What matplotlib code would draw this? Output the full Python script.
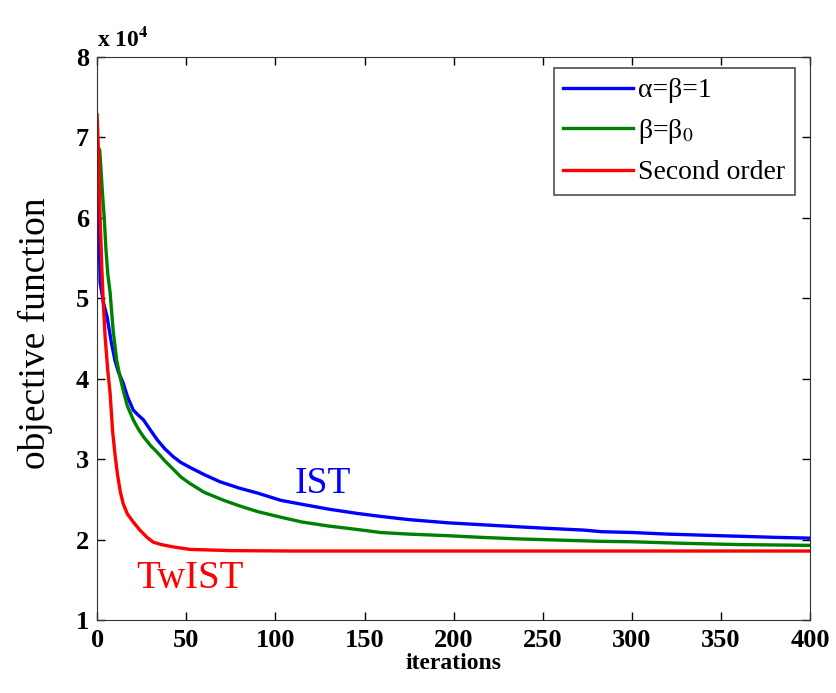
import matplotlib.pyplot as plt

plt.rcParams['font.family'] = ['Liberation Serif', 'DejaVu Serif']
plt.rcParams['mathtext.fontset'] = 'stix'

# objective value (x 1e4) against iteration
it_ist = [0, 0.5, 1.7, 3.5, 5.6, 8, 10, 12, 14.6, 17, 20.3, 23, 26, 30, 33.8, 38, 42.8, 47, 52,
          60, 69, 80, 90, 103, 115, 130, 145, 159, 175, 197, 221, 237, 254, 273, 283, 300,
          320, 350, 380, 400]
val_ist = [6.9, 6.6, 5.2, 4.95, 4.77, 4.45, 4.23, 4.08, 3.95, 3.78, 3.61, 3.55, 3.49, 3.36, 3.24, 3.13,
           3.03, 2.96, 2.90, 2.81, 2.72, 2.64, 2.58, 2.49, 2.44, 2.38, 2.33, 2.29, 2.25, 2.21, 2.18,
           2.16, 2.14, 2.12, 2.10, 2.09, 2.07, 2.05, 2.03, 2.02]

it_beta0 = [0, 1.5, 3, 4, 5, 6, 7.3, 9, 11, 12.8, 14.6, 17, 20.3, 23, 26, 30, 34, 38, 43, 47, 52,
            60, 71, 80, 90, 103, 115, 130, 145, 159, 175, 197, 215, 237, 260, 283, 300, 330, 360, 400]
val_beta0 = [6.9, 6.84, 6.31, 6.0, 5.6, 5.3, 5.07, 4.6, 4.23, 4.03, 3.86, 3.66, 3.49, 3.38, 3.28, 3.17,
             3.08, 2.98, 2.87, 2.78, 2.70, 2.59, 2.49, 2.42, 2.35, 2.28, 2.22, 2.17, 2.13, 2.09, 2.07,
             2.05, 2.03, 2.01, 1.995, 1.98, 1.975, 1.955, 1.94, 1.93]

it_twist = [0, 0.8, 1.7, 2.6, 3.4, 4.5, 6, 7.3, 8.7, 10.1, 11.5, 13, 14.6, 17, 20.3, 24, 28, 31.5,
            36, 43, 52, 75, 108, 200, 300, 400]
val_twist = [7.28, 6.8, 6.0, 5.4, 4.98, 4.52, 4.1, 3.82, 3.35, 3.05, 2.8, 2.6, 2.45, 2.32, 2.22,
             2.12, 2.03, 1.97, 1.94, 1.91, 1.88, 1.865, 1.86, 1.86, 1.86, 1.86]

fig = plt.figure(figsize=(8.37, 6.93), dpi=100)
ax = fig.add_axes([0.116, 0.105, 0.852, 0.813])

ax.plot(it_ist, val_ist, color='#0000ff', lw=2.4, label='α=β=1')
ax.plot(it_beta0, val_beta0, color='#008000', lw=2.4, label='β=β$_0$')
ax.plot(it_twist, val_twist, color='#ff0000', lw=2.4, label='Second order')

ax.set_xlim(0, 400)
ax.set_ylim(1, 8)
ax.set_xticks(range(0, 401, 50))
ax.set_yticks(range(1, 9))
ax.tick_params(direction='in', length=6, width=1, top=True, right=True, labelsize=19, pad=6)
for lab in ax.get_xticklabels() + ax.get_yticklabels():
    lab.set_fontweight('bold')
for sp in ax.spines.values():
    sp.set_color('#333333')

ax.text(0.0, 1.01, 'x 10$^{\\mathbf{4}}$', transform=ax.transAxes, fontsize=17,
        fontweight='bold', ha='left', va='bottom')

ax.set_xlabel('iterations', fontsize=17, fontweight='bold', labelpad=1)
ax.set_ylabel('objective function', fontsize=27)
ax.yaxis.set_label_coords(-0.062, 0.51)

ax.text(111, 2.58, 'IST', color='#0000ff', fontsize=27)
ax.text(22, 1.40, 'TwIST', color='#ff0000', fontsize=28)

leg = ax.legend(loc='upper right', fontsize=20, frameon=True, fancybox=False,
                edgecolor='#222222', handlelength=2.5, handletextpad=0.2,
                borderpad=0.35, labelspacing=0.5, borderaxespad=0,
                bbox_to_anchor=(0.979, 0.98))
leg.get_frame().set_linewidth(1.2)

fig.savefig('out.png', dpi=100)
